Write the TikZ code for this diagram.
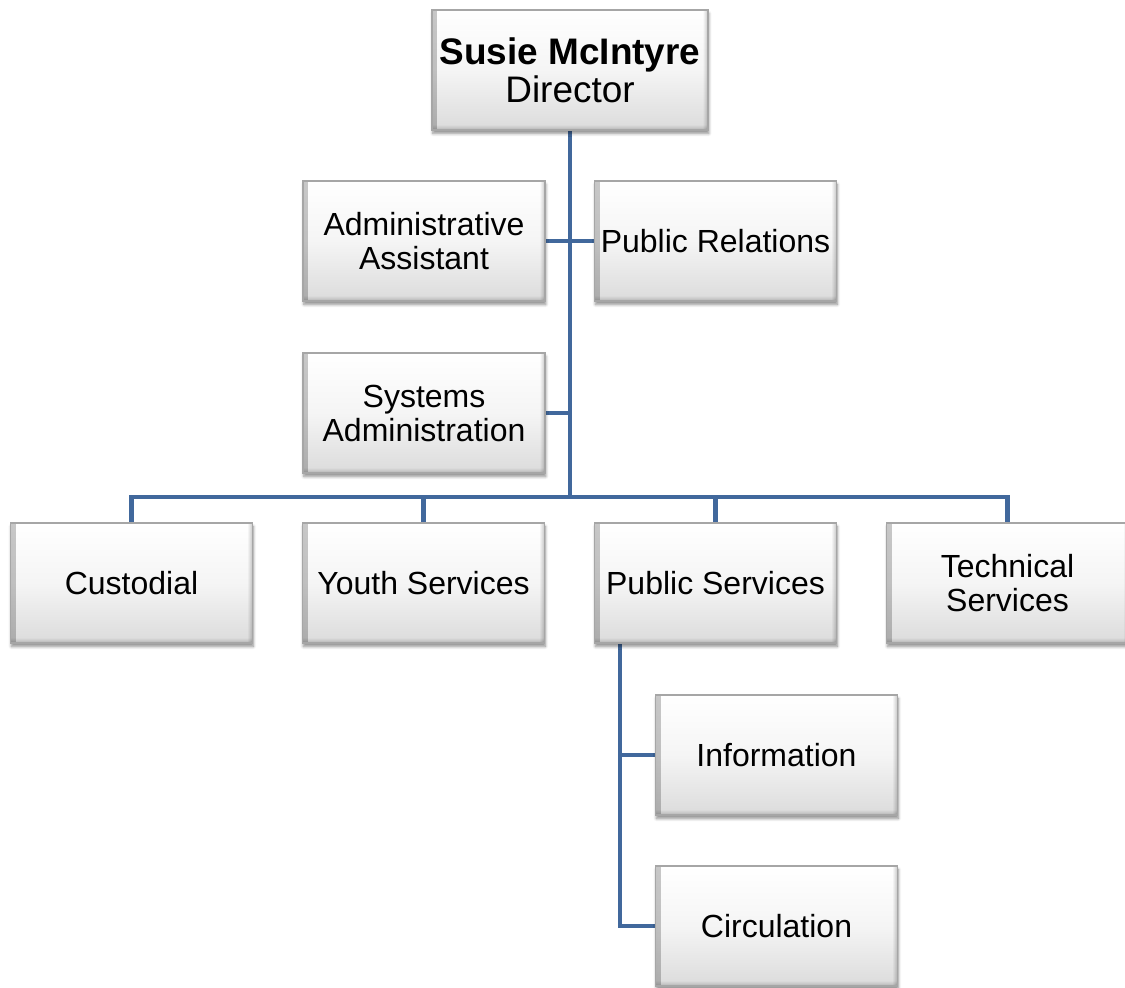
\documentclass[tikz,border=0pt]{standalone}
\usepackage{fontspec}
\setmainfont{Liberation Sans}
\usetikzlibrary{shadows.blur,fadings}
\pgfdeclarelayer{background}
\pgfsetlayers{background,main}
\definecolor{linkblue}{HTML}{41689C}
\definecolor{boxedge}{HTML}{A6A6A6}
\begin{document}
\begin{tikzpicture}[x=0.75pt,y=-0.75pt,
  unit/.style={rectangle, draw=boxedge, line width=0.8pt,
    top color=white, bottom color=black!14, middle color=black!4,
    minimum width=181.5pt, minimum height=90pt, inner sep=2pt,
    align=center, font=\fontsize{24}{25.5}\selectfont,
    blur shadow={shadow xshift=0.6pt, shadow yshift=-2.6pt, shadow blur steps=6, shadow opacity=45},
    path picture={
      % bevelled rim: darker sides and bottom fading into the face
      \fill[black, opacity=0.22, path fading=east]
        (path picture bounding box.south west) rectangle
        ([xshift=4pt]path picture bounding box.north west);
      \fill[black, opacity=0.22, path fading=west]
        (path picture bounding box.south east) rectangle
        ([xshift=-4pt]path picture bounding box.north east);
      \fill[black, opacity=0.18, path fading=north]
        (path picture bounding box.south west) rectangle
        ([yshift=4pt]path picture bounding box.south east);
    }},
  headunit/.style={unit, minimum width=207pt, font=\fontsize{27.7}{28.5}\selectfont},
  link/.style={draw=linkblue, line width=3.3pt}]
\useasboundingbox (0,0) rectangle (1125,988);

% staff boxes
\node[headunit] (dir) at (570,70) {\textbf{Susie McIntyre}\\Director};
\node[unit] (aa) at (424,241) {Administrative\\Assistant};
\node[unit] (pr) at (715.5,241) {Public Relations};
\node[unit] (sa) at (424,413) {Systems\\Administration};
\node[unit] (cust) at (131.5,583) {Custodial};
\node[unit] (youth) at (423.5,583) {Youth Services};
\node[unit] (pub) at (715.5,583) {Public Services};
\node[unit] (tech) at (1007.5,583) {Technical\\Services};
\node[unit] (info) at (776.5,755) {Information};
\node[unit] (circ) at (776.5,926) {Circulation};

\coordinate (bus) at (570,497);
\coordinate (trunk) at (620,643);

% reporting lines
\begin{pgfonlayer}{background}
  \draw[link] (dir.south) -- (bus);
  \draw[link] (cust.north) |- (tech.north |- bus) -- (tech.north);
  \draw[link] (youth.north) -- (youth.north |- bus);
  \draw[link] (pub.north) -- (pub.north |- bus);
  \draw[link] (aa.east) -- (aa.east -| bus);
  \draw[link] (pr.west) -- (pr.west -| bus);
  \draw[link] (sa.east) -- (sa.east -| bus);
  \draw[link] (trunk) |- (circ.west);
  \draw[link] (trunk |- info.west) -- (info.west);
\end{pgfonlayer}
\end{tikzpicture}
\end{document}
